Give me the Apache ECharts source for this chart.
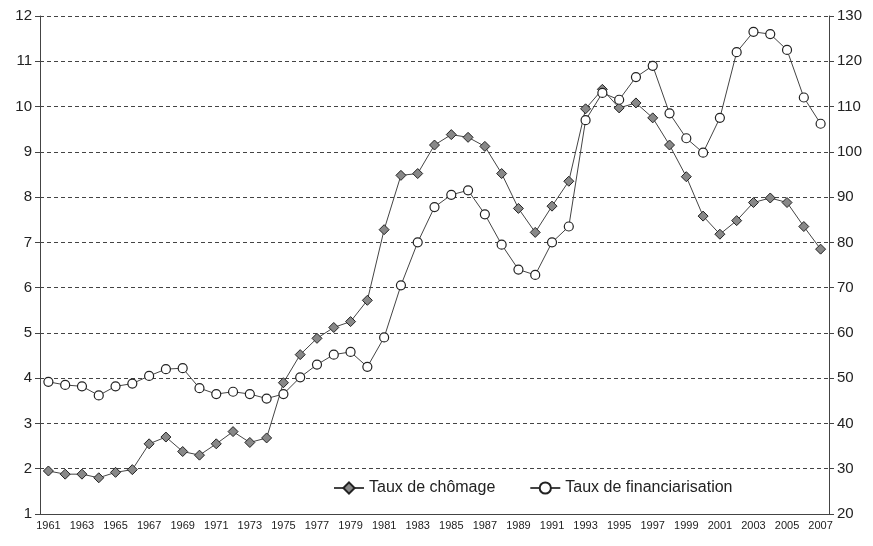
<!DOCTYPE html>
<html>
<head>
<meta charset="utf-8">
<script src="https://cdn.jsdelivr.net/npm/echarts@6/dist/echarts.min.js"></script>
<style>html,body{margin:0;background:#fff}#main{width:873px;height:546px}</style>
</head>
<body>
<div id="main"></div>
<script>
var years = [];
for (var y = 1961; y <= 2007; y++) years.push(String(y));

// Taux de chômage (axe gauche)
var chomage = [1.95,1.88,1.88,1.80,1.92,1.98,2.55,2.70,2.38,2.30,2.55,2.82,2.58,2.68,3.90,4.52,4.88,5.12,5.25,5.72,
  7.28,8.48,8.52,9.15,9.38,9.32,9.12,8.52,7.75,7.22,7.80,8.35,9.95,10.38,9.97,10.08,9.75,9.15,8.45,7.58,
  7.18,7.48,7.88,7.98,7.88,7.35,6.85];
// Taux de financiarisation (axe droit)
var financiarisation = [49.2,48.5,48.2,46.2,48.2,48.8,50.5,52.0,52.2,47.8,46.5,47.0,46.5,45.5,46.5,50.2,53.0,55.2,55.8,52.5,
  59.0,70.5,80.0,87.8,90.5,91.5,86.2,79.5,74.0,72.8,80.0,83.5,107.0,113.0,111.5,116.5,119.0,108.5,103.0,99.8,
  107.5,122.0,126.5,126.0,122.5,112.0,106.2];

var chart = echarts.init(document.getElementById('main'));
var axisText = {color: '#222', fontFamily: 'Liberation Sans', fontSize: 15};
chart.setOption({
  animation: false,
  grid: {left: 40, right: 44, top: 16, bottom: 32},
  legend: {
    bottom: 45, left: 328, itemGap: 34, itemWidth: 30,
    textStyle: {fontFamily: 'Liberation Sans', fontSize: 16, color: '#222'},
    data: ['Taux de chômage', 'Taux de financiarisation']
  },
  xAxis: {
    type: 'category', data: years, boundaryGap: true,
    axisLine: {lineStyle: {color: '#444'}},
    axisTick: {interval: 0, lineStyle: {color: '#444'}},
    axisLabel: {interval: 1, color: '#222', fontFamily: 'Liberation Sans', fontSize: 11, margin: 6}
  },
  yAxis: [{
    type: 'value', min: 1, max: 12, interval: 1,
    axisLine: {show: true, lineStyle: {color: '#444'}},
    axisTick: {show: true, lineStyle: {color: '#444'}},
    axisLabel: axisText,
    splitLine: {lineStyle: {type: [4, 3], color: '#444'}}
  }, {
    type: 'value', min: 20, max: 130, interval: 10,
    axisLine: {show: true, lineStyle: {color: '#444'}},
    axisTick: {show: true, lineStyle: {color: '#444'}},
    axisLabel: axisText,
    splitLine: {show: false}
  }],
  series: [{
    name: 'Taux de chômage', type: 'line', yAxisIndex: 0, data: chomage,
    symbol: 'diamond', symbolSize: 10,
    lineStyle: {color: '#444', width: 1},
    itemStyle: {color: '#888', borderColor: '#222', borderWidth: 1}
  }, {
    name: 'Taux de financiarisation', type: 'line', yAxisIndex: 1, data: financiarisation,
    symbol: 'circle', symbolSize: 9,
    lineStyle: {color: '#444', width: 1},
    itemStyle: {color: '#fff', borderColor: '#222', borderWidth: 1.2}
  }]
});
</script>
</body>
</html>
